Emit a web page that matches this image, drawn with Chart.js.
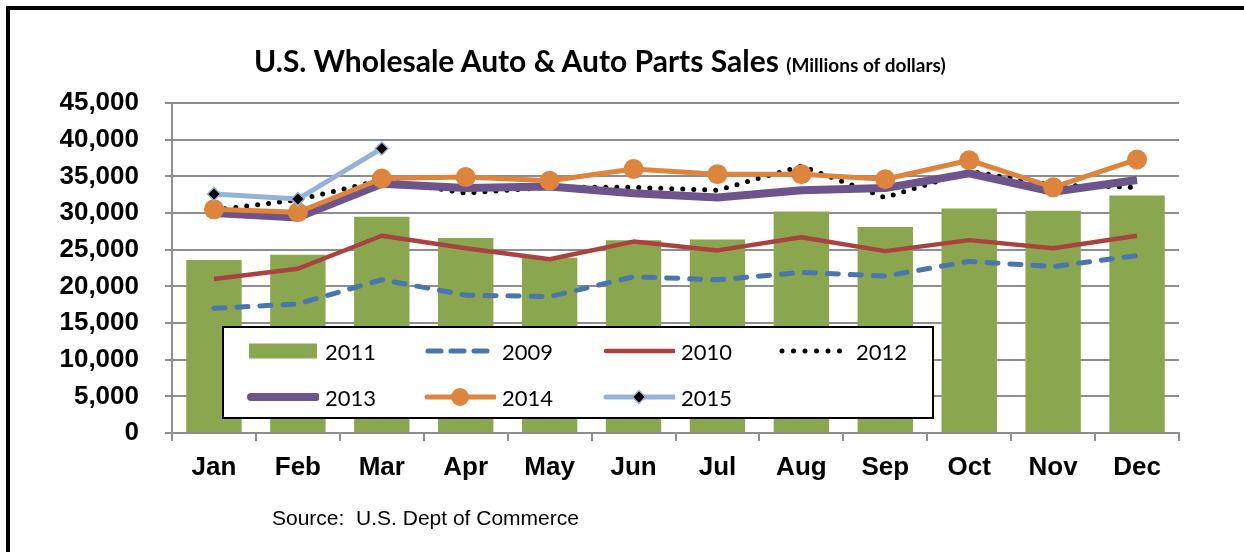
<!DOCTYPE html>
<html>
<head>
<meta charset="utf-8">
<script src="https://cdn.jsdelivr.net/npm/chart.js@4.4.0/dist/chart.umd.min.js"></script>
<style>
  html, body { margin: 0; padding: 0; background: #fff; }
  #wrap { position: relative; width: 1244px; height: 552px; overflow: hidden; }
  #frame { position: absolute; left: 6px; top: 6px; width: 1240px; height: 550px;
           border-left: 4px solid #000; border-top: 4px solid #000; }
  #sales-chart { position: absolute; left: 0; top: 0; }
  #title { position: absolute; left: 254px; top: 42px; white-space: nowrap;
           font-family: Lato, "Noto Sans", sans-serif; font-weight: bold; font-size: 30px; color: #000; }
  #title small { font-size: 19px; }
  #source { position: absolute; left: 272px; top: 506px; white-space: nowrap;
            font-family: "Liberation Sans", Arial, sans-serif; font-size: 21px; color: #000; }
  #legend { position: absolute; left: 222px; top: 326px; width: 708px; height: 89px;
            border: 2px solid #000; background: #fff; }
  .leg-item { position: absolute; height: 24px; display: flex; align-items: center;
              font-family: Lato, "Noto Sans", sans-serif; font-size: 22px; color: #000; }
  .leg-item svg { margin-right: 6px; }
</style>
</head>
<body>
<div id="wrap">
  <canvas id="sales-chart" width="1244" height="552"></canvas>
  <div id="frame"></div>
  <div id="title">U.S. Wholesale Auto &amp; Auto Parts Sales <small>(Millions of dollars)</small></div>
  <div id="legend"></div>
  <div id="source">Source:&nbsp; U.S. Dept of Commerce</div>
</div>
<script>
// 月ラベル
const months = ['Jan', 'Feb', 'Mar', 'Apr', 'May', 'Jun', 'Jul', 'Aug', 'Sep', 'Oct', 'Nov', 'Dec'];

// 年ごとの売上 (百万ドル) — 画像から読み取り
const sales2009 = [17000, 17600, 20900, 18800, 18600, 21300, 20900, 21900, 21400, 23400, 22700, 24200];
const sales2010 = [21000, 22400, 26900, 25200, 23700, 26100, 24900, 26700, 24800, 26300, 25200, 26900];
const sales2011 = [23600, 24300, 29500, 26600, 23900, 26300, 26400, 30200, 28100, 30600, 30300, 32400];
const sales2012 = [30400, 31800, 34500, 32700, 33500, 33500, 33100, 36400, 32100, 35700, 33800, 33500];
const sales2013 = [30000, 29400, 34000, 33400, 33600, 32700, 32100, 33100, 33400, 35400, 32900, 34500];
const sales2014 = [30500, 30100, 34700, 34900, 34400, 36000, 35300, 35300, 34600, 37200, 33500, 37300];
const sales2015 = [32600, 31900, 38800, null, null, null, null, null, null, null, null, null];

const yMax = 45000;
const yStep = 5000;

const colors = {
    y2009: '#4a76ae',
    y2010: '#aa4340',
    y2011: '#8aa64e',
    y2012: '#000000',
    y2013: '#6d548d',
    y2014: '#de843c',
    y2015: '#95b3d7'
};

const axisFont = { family: '"Liberation Sans", Arial, sans-serif', size: 26, weight: 'bold' };
const gridColor = '#8e8e8e';

// 凡例の並び (参照画像と同じ順)
const legendItems = [
    { label: '2011', kind: 'bar', color: colors.y2011 },
    { label: '2009', kind: 'dash', color: colors.y2009 },
    { label: '2010', kind: 'line', color: colors.y2010 },
    { label: '2012', kind: 'dot', color: colors.y2012 },
    { label: '2013', kind: 'thick', color: colors.y2013 },
    { label: '2014', kind: 'circle', color: colors.y2014 },
    { label: '2015', kind: 'diamond', color: colors.y2015 }
];

renderChart();
renderLegend();

// グラフ本体
function renderChart() {
    const ctx = document.getElementById('sales-chart').getContext('2d');
    const lineBase = { type: 'line', pointRadius: 0, tension: 0, fill: false, borderJoinStyle: 'round' };
    return new Chart(ctx, {
        data: {
            labels: months,
            datasets: [
                { type: 'bar', label: '2011', data: sales2011, backgroundColor: colors.y2011,
                  barPercentage: 0.66, categoryPercentage: 1, order: 10 },
                { ...lineBase, label: '2009', data: sales2009, borderColor: colors.y2009, borderWidth: 5,
                  borderDash: [11, 12], borderCapStyle: 'round', order: 7 },
                { ...lineBase, label: '2010', data: sales2010, borderColor: colors.y2010, borderWidth: 4.5, order: 6 },
                { ...lineBase, label: '2012', data: sales2012, borderColor: colors.y2012, borderWidth: 5,
                  borderDash: [0, 11], borderCapStyle: 'round', order: 5 },
                { ...lineBase, label: '2013', data: sales2013, borderColor: colors.y2013, borderWidth: 8, order: 4 },
                { ...lineBase, label: '2014', data: sales2014, borderColor: colors.y2014, borderWidth: 5,
                  pointRadius: 10, pointBackgroundColor: colors.y2014, pointBorderWidth: 0, order: 3 },
                { ...lineBase, label: '2015', data: sales2015, borderColor: colors.y2015, borderWidth: 5,
                  pointStyle: 'rectRot', pointRadius: 6.5, pointBackgroundColor: '#000',
                  pointBorderColor: colors.y2015, pointBorderWidth: 1.5, order: 2 }
            ]
        },
        options: {
            responsive: false,
            animation: false,
            devicePixelRatio: 1,
            layout: { padding: { left: 0, top: 103, right: 65, bottom: 0 } },
            plugins: { legend: { display: false }, tooltip: { enabled: false }, title: { display: false } },
            scales: {
                x: {
                    offset: true,
                    grid: { offset: true, drawOnChartArea: false, drawTicks: true, tickLength: 8,
                            color: gridColor, lineWidth: 2 },
                    border: { color: gridColor, width: 2 },
                    ticks: { font: axisFont, color: '#000', padding: 11, maxRotation: 0 },
                    afterFit: (scale) => { scale.height = 119; }
                },
                y: {
                    min: 0,
                    max: yMax,
                    grid: { color: gridColor, lineWidth: 2, tickLength: 7 },
                    border: { color: gridColor, width: 2 },
                    ticks: { stepSize: yStep, font: axisFont, color: '#000', padding: 26,
                             callback: (v) => v.toLocaleString('en-US') },
                    afterFit: (scale) => { scale.width = 172; }
                }
            }
        }
    });
}

// 凡例の見本図形 (SVG)
function swatchSvg(item) {
    const w = 72, h = 22, cy = 11;
    let body = '';
    switch (item.kind) {
        case 'bar':
            body = `<rect x="2" y="3.5" width="68" height="15" fill="${item.color}"/>`;
            break;
        case 'dash':
            body = `<line x1="4" y1="${cy}" x2="64" y2="${cy}" stroke="${item.color}" stroke-width="5"
                     stroke-linecap="round" stroke-dasharray="13 10"/>`;
            break;
        case 'line':
            body = `<line x1="3" y1="${cy}" x2="71" y2="${cy}" stroke="${item.color}" stroke-width="4.5" stroke-linecap="round"/>`;
            break;
        case 'dot':
            body = `<line x1="4" y1="${cy}" x2="64" y2="${cy}" stroke="${item.color}" stroke-width="5"
                     stroke-linecap="round" stroke-dasharray="0 11.5"/>`;
            break;
        case 'thick':
            body = `<line x1="4" y1="${cy}" x2="69" y2="${cy}" stroke="${item.color}" stroke-width="8" stroke-linecap="round"/>`;
            break;
        case 'circle':
            body = `<line x1="3" y1="${cy}" x2="71" y2="${cy}" stroke="${item.color}" stroke-width="5" stroke-linecap="round"/>
                    <circle cx="36" cy="${cy}" r="9" fill="${item.color}"/>`;
            break;
        case 'diamond':
            body = `<line x1="3" y1="${cy}" x2="71" y2="${cy}" stroke="${item.color}" stroke-width="5" stroke-linecap="round"/>
                    <polygon points="36,${cy - 6.5} 42.5,${cy} 36,${cy + 6.5} 29.5,${cy}" fill="#000"
                     stroke="${item.color}" stroke-width="1.5"/>`;
            break;
    }
    return `<svg width="${w}" height="${h}" viewBox="0 0 ${w} ${h}">${body}</svg>`;
}

// 凡例を描画 (4列×2行)
function renderLegend() {
    const box = document.getElementById('legend');
    const colLeft = [23, 200, 379, 554];
    const rowTop = [11, 57];
    legendItems.forEach((item, i) => {
        const div = document.createElement('div');
        div.className = 'leg-item';
        div.style.left = colLeft[i % 4] + 'px';
        div.style.top = rowTop[Math.floor(i / 4)] + 'px';
        div.innerHTML = swatchSvg(item) + `<span>${item.label}</span>`;
        box.appendChild(div);
    });
}
</script>
</body>
</html>
